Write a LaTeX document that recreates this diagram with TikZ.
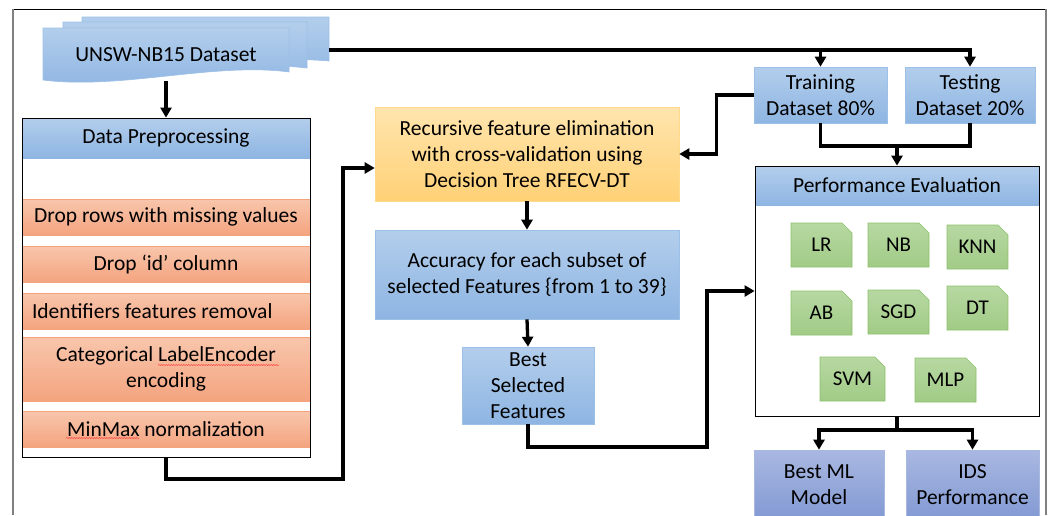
\documentclass[tikz,border=0pt]{standalone}
\usepackage{fontspec}
\setmainfont{Carlito}
\usetikzlibrary{arrows.meta,shapes.misc,decorations.pathmorphing}
\definecolor{bluetop}{HTML}{B3CEEC}
\definecolor{bluebot}{HTML}{8EB5E2}
\definecolor{blueedge}{HTML}{9DC0E6}
\definecolor{salmtop}{HTML}{F8C6AC}
\definecolor{salmbot}{HTML}{F4A47F}
\definecolor{salmedge}{HTML}{F4A47C}
\definecolor{yeltop}{HTML}{FFE5AE}
\definecolor{yelbot}{HTML}{FFD176}
\definecolor{yeledge}{HTML}{FFD98C}
\definecolor{grntop}{HTML}{B7D8A2}
\definecolor{grnbot}{HTML}{A1CB86}
\definecolor{grnedge}{HTML}{8DC06C}
\definecolor{purtop}{HTML}{A9B8E1}
\definecolor{purbot}{HTML}{8299D3}
\tikzset{
  txt/.style={font=\fontsize{21.5}{26}\selectfont, align=center, inner sep=0pt},
  bluebox/.style={txt, top color=bluetop, bottom color=bluebot, draw=blueedge, line width=0.6pt},
  salmbox/.style={txt, top color=salmtop, bottom color=salmbot, draw=salmedge, line width=0.6pt, minimum width=288pt},
  yelbox/.style={txt, top color=yeltop, bottom color=yelbot, draw=yeledge, line width=0.6pt},
  purbox/.style={txt, top color=purtop, bottom color=purbot, draw=purtop, line width=0.6pt},
  card/.style={txt, font=\fontsize{21}{24}\selectfont, chamfered rectangle, chamfered rectangle corners=north east,
     chamfered rectangle xsep=5pt, chamfered rectangle ysep=5pt,
     top color=grntop, bottom color=grnbot, draw=grnedge, line width=0.6pt, minimum width=61pt, minimum height=44pt},
  arr/.style={line width=3.3pt, -{Triangle[length=10pt,width=11pt]}},
  conn/.style={line width=3.3pt},
  docsh/.style={top color=bluetop, bottom color=bluebot, draw=blueedge, line width=0.6pt},
  squiggle/.style={red!75, line width=0.5pt, decorate, decoration={snake, amplitude=0.6pt, segment length=2.5pt}}
}
\begin{document}
\begin{tikzpicture}[x=1pt,y=-1pt]
\useasboundingbox (0,0) rectangle (1051,515);
% outer frame
\draw[black, line width=0.8pt] (13,9) -- (1046,9);
\draw[gray, line width=1.4pt] (13,9) -- (13,515);
\draw[gray, line width=1.4pt] (1046,9) -- (1046,515);

% multi-document
\path[docsh] (82,17) -- (329,17) -- (329,61) .. controls (240,53) and (160,82) .. (82,70) -- cycle;
\path[docsh] (63,22) -- (307,22) -- (307,68) .. controls (220,58) and (140,90) .. (63,76) -- cycle;
\path[docsh] (43,28) -- (289,28) -- (289,72) .. controls (215,62) and (120,90) .. (43,80) -- cycle;
\node[txt] (ds) at (166,55) {UNSW-NB15 Dataset};
\coordinate (docB) at (166,81);
\coordinate (docR) at (329,50);

% data preprocessing
\node[bluebox, draw=none, minimum width=288pt, minimum height=40pt] (prepH) at (166,138) {Data Preprocessing};
\node[salmbox, minimum height=36pt] (b1) at (166,217) {Drop rows with missing values};
\node[salmbox, minimum height=36pt] (b2) at (166,264) {Drop ‘id’ column};
\node[salmbox, minimum height=36pt, text width=268pt, inner xsep=10pt, align=flush left] (b3) at (166,311) {Identifiers features removal};
\node[salmbox, minimum height=64pt] (b4) at (166,369) {Categorical LabelEncoder\\encoding};
\node[salmbox, minimum height=36pt] (b5) at (166,429) {MinMax normalization};
\node[draw=black, line width=0.8pt, minimum width=288pt, minimum height=339pt, inner sep=0pt] (prep) at (166,287.5) {};
\draw[squiggle] (158,365) -- (279,365);
\draw[squiggle] (66,438) -- (139,438);

% middle column
\node[yelbox, minimum width=304pt, minimum height=94pt] (rfe) at (527,154) {Recursive feature elimination\\with cross-validation using\\Decision Tree RFECV-DT};
\node[bluebox, minimum width=304pt, minimum height=89pt] (acc) at (527,274.5) {Accuracy for each subset of\\selected Features \{from 1 to 39\}};
\node[bluebox, minimum width=132pt, minimum height=77pt] (best) at (528,385.5) {Best\\Selected\\Features};

% right column
\node[bluebox, minimum width=133pt, minimum height=56pt] (train) at (820.5,95) {Training\\Dataset 80\%};
\node[bluebox, minimum width=130pt, minimum height=56pt] (test) at (970,95) {Testing\\Dataset 20\%};
\node[bluebox, draw=none, minimum width=284pt, minimum height=39pt] (perfH) at (897,185.5) {Performance Evaluation};
\node[draw=black, line width=0.8pt, minimum width=284pt, minimum height=250pt, inner sep=0pt] (perf) at (897,291) {};
\node[card] (lr) at (821.5,245) {LR};
\node[card] (nb) at (898.5,245) {NB};
\node[card] (knn) at (977.5,247) {KNN};
\node[card] (ab) at (821.5,313) {AB};
\node[card] (sgd) at (898.5,312) {SGD};
\node[card] (dt) at (977.5,308) {DT};
\node[card, minimum width=65pt] (svm) at (852.5,379) {SVM};
\node[card] (mlp) at (945.5,380) {MLP};
\node[purbox, minimum width=130pt, minimum height=70pt] (bestml) at (819,485) {Best ML\\Model};
\node[purbox, minimum width=133pt, minimum height=70pt] (ids) at (972.5,485) {IDS\\Performance};

% connectors
\draw[arr] (docB) -- (prep.north);
\draw[arr] (docR) -| (train.north);
\draw[arr] (docR) -| (test.north);
\draw[arr] (prep.south) |- (343,479) |- ([yshift=-14pt]rfe.west);
\draw[arr] (train.west) -- ++(-37,0) |- (rfe.east);
\draw[arr] (rfe.south) -- (acc.north);
\draw[arr] (acc.south) -- (best.north);
\draw[arr] (best.south) |- (707,447) |- (perf.west);
\coordinate (tj) at (897,146);
\draw[conn] (train.south) |- (tj) -| (test.south);
\draw[arr] (tj) -- (perf.north);
\coordinate (pj) at (897,430);
\draw[conn] (perf.south) -- (pj);
\draw[arr] (pj) -| (bestml.north);
\draw[arr] (pj) -| (ids.north);
\end{tikzpicture}
\end{document}
